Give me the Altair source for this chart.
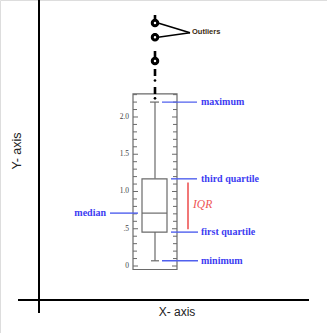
import altair as alt
import pandas as pd

# ---- data ----
box_stats = {"minimum": 0.07, "q1": 0.455, "median": 0.71, "q3": 1.17, "maximum": 2.2}
outliers = [2.75, 3.07, 3.26]
small_points = [2.25, 2.49]
minor_ticks = [0.1, 0.2, 0.3, 0.4, 0.6, 0.7, 0.8, 0.9, 1.1, 1.2, 1.3, 1.4,
               1.6, 1.7, 1.8, 1.9, 2.1, 2.2, 2.3]
major_ticks = [0.0, 0.5, 1.0, 1.5, 2.0]
major_labels = ["0", ".5", "1.0", "1.5", "2.0"]
frame_range = [-0.047, 2.309]
annot_names = ["maximum", "third quartile", "median", "first quartile", "minimum"]
annot_keys = ["maximum", "q3", "median", "q1", "minimum"]
outlier_label = "Outliers"
outlier_label_v = 3.13
iqr_label = "IQR"
x_title = "X- axis"
y_title = "Y- axis"

# ---- layout / style ----
W, H = 327, 333
yscale = alt.Scale(domain=[-0.899, 3.570], nice=False, zero=False)
BLUE_T = "#3c3cf2"
BLUE_L = "#5060ee"
RED = "#ee5555"
GRAY = "#6a6a6a"
SERIF = "Liberation Serif"
SANS = "Liberation Sans"


def Y(field):
    return alt.Y(field, type="quantitative", scale=yscale, axis=None)


layers = []
one = pd.DataFrame({"a": [1]})

# outer axes
layers.append(alt.Chart(one).mark_rule(color="black", strokeWidth=2).encode(
    x=alt.value(39), y=alt.value(0), y2=alt.value(313)))
layers.append(alt.Chart(one).mark_rule(color="black", strokeWidth=2).encode(
    y=alt.value(300), x=alt.value(18), x2=alt.value(309)))
layers.append(alt.Chart(pd.DataFrame({"t": [y_title]})).mark_text(
    font=SANS, fontSize=12.5, angle=270, color="#222").encode(
    x=alt.value(17), y=alt.value(151), text="t:N"))
layers.append(alt.Chart(pd.DataFrame({"t": [x_title]})).mark_text(
    font=SANS, fontSize=12, color="#222").encode(
    x=alt.value(177), y=alt.value(312), text="t:N"))

# inner frame
frame_df = pd.DataFrame({"lo": [frame_range[0]], "hi": [frame_range[1]]})
layers.append(alt.Chart(frame_df).mark_rect(fill="white", stroke=GRAY, strokeWidth=1.2).encode(
    x=alt.value(133), x2=alt.value(177), y=Y("hi"), y2="lo:Q"))

minor_df = pd.DataFrame({"v": minor_ticks})
major_df = pd.DataFrame({"v": major_ticks, "label": major_labels})
for x0, x1 in [(133, 137), (173, 177)]:
    layers.append(alt.Chart(minor_df).mark_rule(color=GRAY, strokeWidth=1).encode(
        x=alt.value(x0), x2=alt.value(x1), y=Y("v")))
for x0, x1 in [(133, 138), (172, 177)]:
    layers.append(alt.Chart(major_df).mark_rule(color=GRAY, strokeWidth=1).encode(
        x=alt.value(x0), x2=alt.value(x1), y=Y("v")))
layers.append(alt.Chart(major_df).mark_text(font=SERIF, fontSize=7.5, color="#444", align="right").encode(
    x=alt.value(129), y=Y("v"), text="label:N"))

# box plot
stats_df = pd.DataFrame([box_stats])
layers.append(alt.Chart(stats_df).mark_rule(color=GRAY, strokeWidth=1.2).encode(
    x=alt.value(155), y=Y("minimum"), y2="q1:Q"))
layers.append(alt.Chart(stats_df).mark_rule(color=GRAY, strokeWidth=1.2).encode(
    x=alt.value(155), y=Y("q3"), y2="maximum:Q"))
layers.append(alt.Chart(stats_df).mark_rule(color=GRAY, strokeWidth=1.2).encode(
    x=alt.value(151), x2=alt.value(159), y=Y("minimum")))
layers.append(alt.Chart(stats_df).mark_rule(color=GRAY, strokeWidth=1.2).encode(
    x=alt.value(150), x2=alt.value(159), y=Y("maximum")))
layers.append(alt.Chart(stats_df).mark_rect(fill="white", stroke=GRAY, strokeWidth=1.2).encode(
    x=alt.value(142), x2=alt.value(167), y=Y("q1"), y2="q3:Q"))
layers.append(alt.Chart(stats_df).mark_rule(color=GRAY, strokeWidth=1.2).encode(
    x=alt.value(142), x2=alt.value(167), y=Y("median")))

# dashed extension and outliers
layers.append(alt.Chart(frame_df).mark_rule(color="black", strokeWidth=2.6, strokeDash=[7, 11]).encode(
    x=alt.value(155), y=Y("hi"), y2=alt.value(10)))
out_df = pd.DataFrame({"v": outliers})
pts_df = pd.DataFrame({"v": small_points})
conn_df = pd.DataFrame({"v": outliers[1:], "end": [outlier_label_v] * 2})
layers.append(alt.Chart(conn_df).mark_rule(color="black", strokeWidth=1.6).encode(
    x=alt.value(158), x2=alt.value(190), y=Y("v"), y2="end:Q"))
layers.append(alt.Chart(out_df).mark_point(shape="circle", filled=True, fill="white", stroke="black",
                                           size=30, strokeWidth=3, opacity=1).encode(
    x=alt.value(155), y=Y("v")))
layers.append(alt.Chart(pts_df).mark_point(shape="circle", filled=True, color="black", size=7, opacity=1).encode(
    x=alt.value(155), y=Y("v")))
layers.append(alt.Chart(pd.DataFrame({"t": [outlier_label], "v": [outlier_label_v + 0.01]})).mark_text(
    font=SANS, fontSize=7.5, fontWeight="bold", color="#3a2a10", align="left").encode(
    x=alt.value(192), y=Y("v"), text="t:N"))

# annotations
annot_df = pd.DataFrame({"name": annot_names, "v": [box_stats[k] for k in annot_keys]})
line_x = {"maximum": (162, 197), "third quartile": (171, 197), "first quartile": (171, 198),
          "minimum": (162, 198), "median": (110, 138)}
for name in annot_names:
    sub = annot_df[annot_df["name"] == name]
    x0, x1 = line_x[name]
    layers.append(alt.Chart(sub).mark_rule(color=BLUE_L, strokeWidth=1.4).encode(
        x=alt.value(x0), x2=alt.value(x1), y=Y("v")))
    if name == "median":
        layers.append(alt.Chart(sub).mark_text(font=SERIF, fontSize=10, fontWeight="bold",
                                               color=BLUE_T, align="right").encode(
            x=alt.value(106), y=Y("v"), text="name:N"))
    else:
        layers.append(alt.Chart(sub).mark_text(font=SERIF, fontSize=10, fontWeight="bold",
                                               color=BLUE_T, align="left").encode(
            x=alt.value(201), y=Y("v"), text="name:N"))

# IQR
iqr_df = pd.DataFrame({"top": [box_stats["q3"] - 0.05], "bot": [box_stats["q1"] + 0.04],
                       "mid": [(box_stats["q1"] + box_stats["q3"]) / 2], "t": [iqr_label]})
layers.append(alt.Chart(iqr_df).mark_rule(color=RED, strokeWidth=1.6).encode(
    x=alt.value(188), y=Y("top"), y2="bot:Q"))
layers.append(alt.Chart(iqr_df).mark_text(font=SERIF, fontSize=11.5, fontStyle="italic", color=RED,
                                          align="left").encode(
    x=alt.value(193), y=Y("mid"), text="t:N"))

chart = alt.layer(*layers).properties(
    width=W, height=H, padding=0,
    autosize=alt.AutoSizeParams(type="none"),
).configure_view(stroke=None).configure(background="white")

chart.save("out.html", embed_options={"renderer": "svg", "actions": False})
